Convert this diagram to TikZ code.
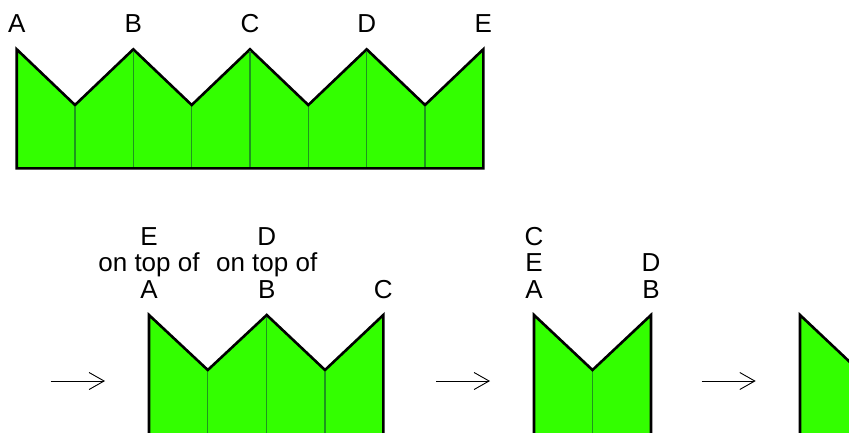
\documentclass[tikz,border=0pt]{standalone}
\usepackage{fontspec}
\setmainfont{Liberation Sans}
\usetikzlibrary{arrows.meta}
\definecolor{crowngreen}{RGB}{51,255,0}
\definecolor{folddark}{RGB}{30,150,30}

\begin{document}
\begin{tikzpicture}[x=1pt, y=-1pt,
  crown/.style={fill=crowngreen, draw=black, line width=2.6pt},
  fold/.style={folddark, line width=1.2pt, shorten <=1.5pt, shorten >=1.5pt},
  lbl/.style={font=\fontsize{26}{26}\selectfont, anchor=base, inner sep=0pt},
  fwd/.style={line width=0.9pt, -{Straight Barb[length=15pt, width=17pt]}}]
  \useasboundingbox (0,0) rectangle (849,432);
  \clip (0,0) rectangle (849,432);
  %% Unfolded strip
  \draw[crown] (16.7,49.3) -- (75,105) -- (133.3,49.3) -- (191.7,105) -- (250,49.3)
    -- (308.3,105) -- (366.7,49.3) -- (425,105) -- (483.3,49.3)
    -- (483.3,168.3) -- (16.7,168.3) -- cycle;
  \foreach \x/\y in {75/105, 133.3/49.3, 191.7/105, 250/49.3, 308.3/105, 366.7/49.3, 425/105}
    \draw[fold] (\x,\y) -- (\x,168.3);
  \node[lbl] (topA) at (16.7,32) {A};
  \node[lbl] (topB) at (133.3,32) {B};
  \node[lbl] (topC) at (250,32) {C};
  \node[lbl] (topD) at (366.7,32) {D};
  \node[lbl] (topE) at (483.3,32) {E};
  %% First fold
  \coordinate (s1) at (50.7,381);
  \coordinate (e1) at (105,381);
  \draw[fwd] (s1) -- (e1);
  \draw[crown] (149,315) -- (207.8,370) -- (266.7,315) -- (325,370) -- (383.3,315)
    -- (383.3,440) -- (149,440) -- cycle;
  \foreach \x/\y in {207.8/370, 266.7/315, 325/370}
    \draw[fold] (\x,\y) -- (\x,440);
  \node[lbl] (oneE) at (149,245) {E};
  \node[lbl] (oneEA) at (149,271) {on top of};
  \node[lbl] (oneA) at (149,298) {A};
  \node[lbl] (oneD) at (266.7,245) {D};
  \node[lbl] (oneDB) at (266.7,271) {on top of};
  \node[lbl] (oneB) at (266.7,298) {B};
  \node[lbl] (oneC) at (383.3,298) {C};
  %% Second fold
  \coordinate (s2) at (436,381);
  \coordinate (e2) at (490,381);
  \draw[fwd] (s2) -- (e2);
  \draw[crown] (534,315) -- (592.5,370) -- (651,315) -- (651,440) -- (534,440) -- cycle;
  \draw[fold] (592.5,370) -- (592.5,440);
  \node[lbl] (twoC) at (534,245) {C};
  \node[lbl] (twoE) at (534,271) {E};
  \node[lbl] (twoA) at (534,298) {A};
  \node[lbl] (twoD) at (651,271) {D};
  \node[lbl] (twoB) at (651,298) {B};
  %% Third fold
  \coordinate (s3) at (701.7,381);
  \coordinate (e3) at (755.7,381);
  \draw[fwd] (s3) -- (e3);
  \draw[crown] (800,315) -- (858.3,370) -- (858.3,440) -- (800,440) -- cycle;
\end{tikzpicture}
\end{document}
